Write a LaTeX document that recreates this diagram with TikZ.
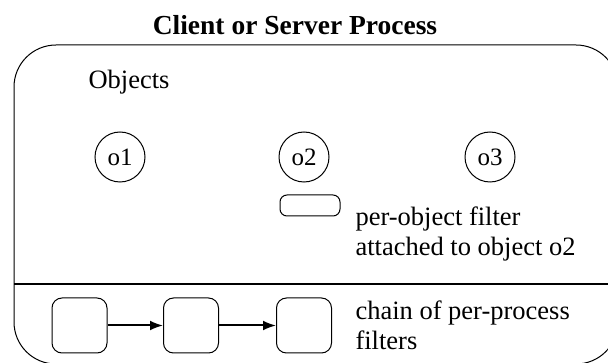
\documentclass[tikz,border=0pt]{standalone}
\usepackage{fontspec}
\setmainfont{Liberation Serif}
\usepackage{tikz}
\usetikzlibrary{positioning,arrows.meta}

\begin{document}
\begin{tikzpicture}[x=1pt,y=-1pt,
  line width=1pt,
  obj node/.style={circle,draw,minimum size=50pt,inner sep=0pt,font=\rmfamily\fontsize{25}{29}\selectfont},
  filter node/.style={rectangle,draw,rounded corners=10pt,minimum width=55pt,minimum height=55pt,inner sep=0pt},
  text node/.style={anchor=base west,align=left,inner sep=0pt,font=\rmfamily\fontsize{26.5}{30}\selectfont}]

  \useasboundingbox (0,0) rectangle (608,363);

  % the process
  \node[anchor=base,font=\rmfamily\bfseries\fontsize{27.5}{30}\selectfont] (title) at (295,35) {Client or Server Process};
  \draw[rounded corners=42pt] (14,45) rectangle (618,364);
  \draw[line width=2pt] (14,284) -- (618,284);

  % objects
  \node[text node] (objects) at (88,89) {Objects};
  \node[obj node] (o1) at (120,157) {o1};
  \node[obj node] (o2) at (304,157) {o2};
  \node[obj node] (o3) at (490,157) {o3};

  \node[draw,rounded corners=7pt,minimum width=60pt,minimum height=21pt,inner sep=0pt] (objfilter) at (310,205.5) {};
  \node[text node] (objtext) at (355,256) {per-object filter\\attached to object o2};

  % per-process chain
  \node[filter node] (f1) at (79.5,325.5) {};
  \node[filter node] (f2) at (191,325.5) {};
  \node[filter node] (f3) at (304,325.5) {};
  \node[text node] (chaintext) at (355,350) {chain of per-process\\filters};

  \path[draw,-{Latex[length=13pt,width=10pt]},line width=2pt]
    (f1) edge (f2)
    (f2) edge (f3);

\end{tikzpicture}
\end{document}
